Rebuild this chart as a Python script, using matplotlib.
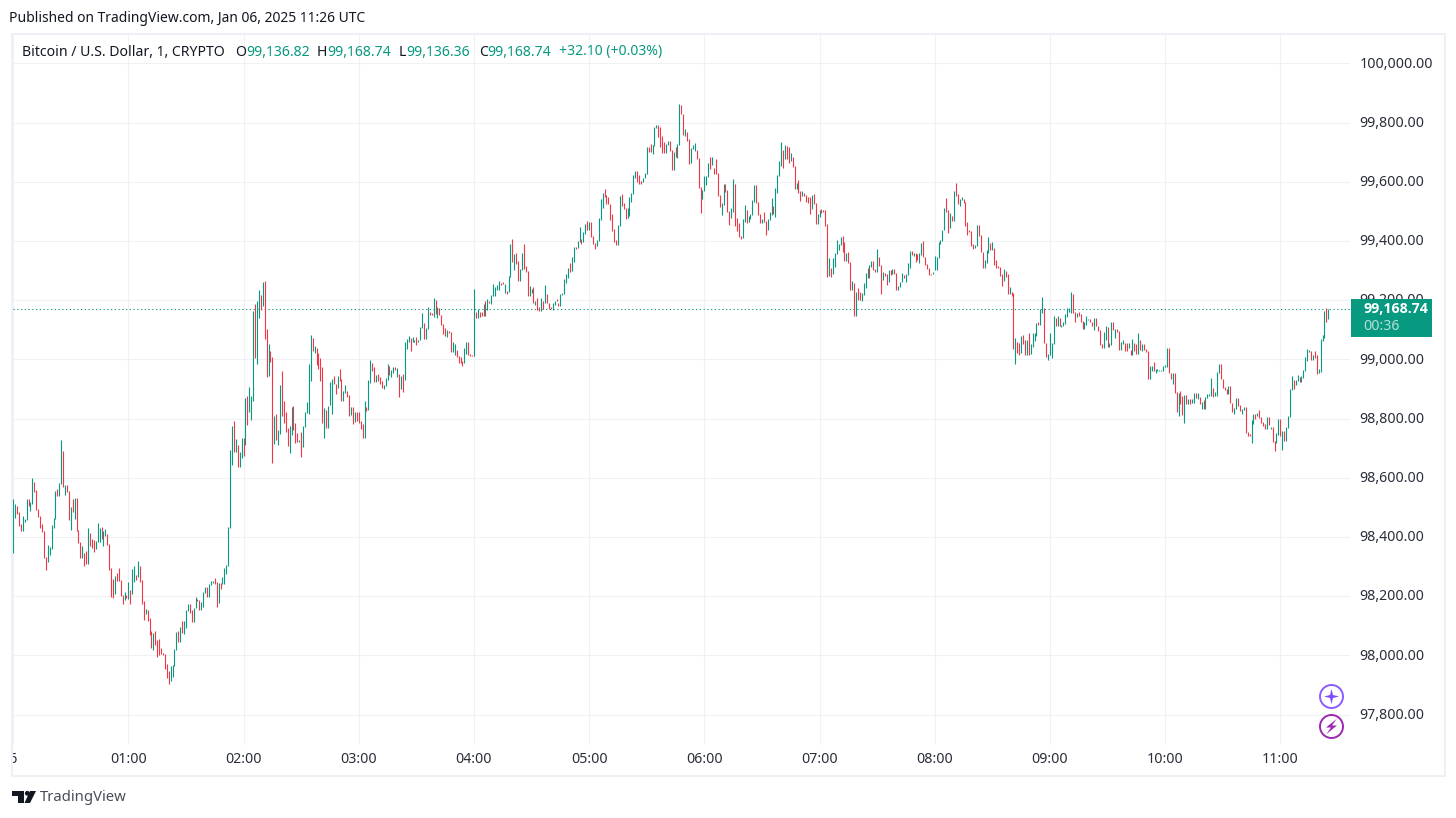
import matplotlib
matplotlib.use("Agg")
import matplotlib.pyplot as plt
import numpy as np
from matplotlib.patches import Rectangle, Circle, Polygon
from matplotlib.transforms import Bbox, ScaledTranslation

plt.rcParams["font.family"] = ["Noto Sans", "DejaVu Sans"]

GREEN = "#089981"
RED = "#F23645"
GRID = "#F0F1F5"
FRAME = "#EFF0F5"
TEXT = "#131722"

# 1 minute bars, (high, low, rising), one list per stretch of the session
session_a = [
    (98528,98346,1),(98511,98463,1),(98504,98477,0),(98484,98436,0),(98443,98420,0),(98470,98420,1),
    (98460,98450,1),(98528,98457,1),(98528,98504,0),(98518,98487,1),(98599,98511,1),(98585,98551,0),
    (98558,98491,0),(98494,98467,0),(98470,98430,0),(98443,98416,0),(98420,98328,0),(98332,98288,0),
    (98372,98315,1),(98365,98338,1),(98440,98359,1),(98463,98430,1),(98555,98460,1),(98562,98538,0),
    (98582,98538,1),(98727,98578,1),(98690,98568,0),(98575,98541,1),(98575,98551,0),(98555,98457,0),
    (98501,98423,1),(98528,98484,0),(98531,98460,1),(98531,98420,0),(98423,98379,0),(98382,98328,0),
    (98369,98328,1),(98345,98301,0),(98352,98308,0),(98430,98308,1),(98413,98369,0),(98392,98362,0),
    (98389,98348,0),(98386,98359,1),(98447,98382,1),(98430,98382,1),(98433,98392,0),(98420,98369,1),
    (98426,98403,1),(98409,98372,0),(98376,98288,0),(98294,98196,0),(98257,98193,0),(98267,98206,1),
    (98277,98250,0),(98294,98250,0),(98254,98200,0),(98203,98173,0),(98213,98186,1),(98203,98193,0),
    (98247,98190,1),(98220,98173,0),(98291,98206,1),(98301,98247,1),(98271,98254,0),(98318,98264,1),
    (98301,98247,0),(98254,98173,0),(98183,98119,0),(98156,98139,1),(98152,98115,0),(98125,98068,0),
    (98081,98024,0),(98075,98017,1),(98081,98034,0),(98051,97994,0),(98054,98000,0),(98024,98004,0),
    (98007,98000,0),(98004,97953,0),(97970,97923,0),(97946,97902,0),(97963,97912,1),(97966,97926,1),
    (98021,97963,1),(98078,98017,1),(98081,98044,0),(98095,98044,1),(98115,98075,0),(98115,98071,1),
    (98152,98092,1),(98173,98149,1),(98173,98142,0),(98152,98112,0),(98159,98112,1),(98196,98159,1),
    (98190,98183,0),(98186,98152,0),(98179,98152,1),(98213,98163,1),(98230,98210,1),(98230,98196,0),
    (98240,98196,1),(98250,98237,1),(98250,98244,1),(98260,98240,0),(98247,98163,0),(98244,98176,1),
    (98244,98223,0),(98264,98240,1),(98294,98240,1),(98305,98274,1),(98433,98301,1),(98693,98430,1),
]
session_b = [
    (98775,98643,1),(98791,98687,0),(98731,98687,1),(98710,98636,0),(98687,98636,1),(98734,98666,1),
    (98734,98673,0),(98869,98710,1),(98876,98778,0),(98906,98822,1),(98876,98795,1),(99163,98859,1),
    (99187,99004,0),(99197,98984,1),(99234,99140,1),(99217,99167,0),(99261,99180,1),(99265,99069,0),
    (99103,98940,0),(99052,98944,1),(99028,98991,0),(99008,98649,0),(98808,98714,1),(98815,98727,0),
    (98761,98710,1),(98913,98747,1),(98960,98808,0),(98859,98785,0),(98822,98754,0),(98768,98707,0),
    (98775,98683,1),(98839,98744,1),(98842,98761,0),(98785,98717,0),(98751,98720,0),(98727,98720,1),
    (98754,98670,0),(98775,98704,1),(98822,98771,1),(98856,98818,1),(98984,98815,1),(99082,98927,1),
    (99072,99028,0),(99045,99021,1),(99038,98981,0),(99021,98967,0),(99004,98927,0),(98974,98785,0),
    (98835,98734,1),(98829,98768,0),(98842,98768,1),(98923,98846,1),(98933,98815,1),(98944,98917,0),
    (98917,98883,0),(98944,98903,1),(98967,98927,0),(98933,98859,0),(98893,98859,1),(98913,98886,1),
    (98893,98873,0),(98879,98808,0),(98839,98812,1),(98839,98781,0),(98822,98788,1),(98822,98791,0),
    (98822,98785,0),(98791,98764,0),(98781,98734,0),(98859,98734,1),(98839,98825,0),(98930,98829,1),
    (98998,98920,1),(98988,98960,0),(98974,98923,0),(98947,98923,1),(98950,98927,0),(98940,98917,0),
    (98927,98903,0),(98913,98900,1),(98937,98910,1),(98984,98930,1),(98977,98947,0),(98964,98940,1),
    (98974,98954,1),(98974,98964,0),(98971,98940,1),(98950,98873,0),
]
session_c = [
    (98945,98900,1),(98950,98890,0),(99058,98930,1),(99069,99035,1),(99079,99058,1),(99072,99028,0),
    (99075,99058,1),(99065,99058,1),(99075,99048,0),(99065,99058,1),(99109,99065,1),(99156,99106,1),
    (99123,99069,0),(99106,99069,1),(99177,99102,1),(99160,99150,0),(99156,99150,0),(99207,99143,1),
    (99200,99153,0),(99177,99140,1),(99173,99150,0),(99150,99116,0),(99119,99085,0),(99106,99079,0),
    (99099,99075,1),(99096,99089,0),(99092,99025,0),(99058,99025,1),(99052,99014,1),(99031,99008,0),
    (99011,98987,0),(99008,98987,0),(98994,98977,0),(99038,98987,1),(99058,99018,1),(99058,99014,0),
    (99018,99011,0),(99014,99011,0),(99238,99011,1),(99160,99140,0),(99170,99140,1),(99160,99143,0),
    (99160,99146,0),(99187,99146,1),(99197,99146,0),(99204,99167,1),(99197,99190,0),(99217,99187,1),
    (99255,99214,1),(99244,99214,1),(99251,99234,1),(99265,99234,1),(99258,99251,0),(99261,99254,0),
    (99255,99224,1),(99231,99221,0),(99282,99227,1),(99390,99278,1),(99407,99329,0),(99356,99302,1),
    (99359,99322,0),(99332,99265,0),(99305,99265,1),(99359,99302,1),(99390,99305,0),(99315,99295,0),
    (99298,99214,0),(99248,99214,1),(99238,99224,1),(99244,99190,0),(99197,99183,1),(99207,99167,0),
    (99177,99163,0),(99207,99163,1),(99197,99170,0),(99251,99190,1),(99221,99190,0),(99190,99170,0),
    (99177,99170,0),(99190,99167,1),(99197,99183,1),(99204,99197,0),(99190,99180,0),(99221,99180,1),
    (99224,99217,1),(99271,99221,1),
]
session_d = [
    (99290,99258,1),(99310,99275,1),(99325,99295,0),(99345,99300,1),
    (99380,99330,1),(99380,99373,0),(99400,99377,1),(99448,99397,1),(99407,99390,0),(99431,99397,1),
    (99458,99424,1),(99468,99438,0),(99465,99438,1),(99465,99414,0),(99417,99390,0),(99394,99373,0),
    (99404,99383,1),(99478,99400,1),(99542,99471,1),(99563,99512,1),(99576,99549,0),(99556,99525,0),
    (99549,99525,0),(99525,99471,0),(99492,99434,0),(99441,99397,0),(99404,99387,0),(99454,99387,1),
    (99552,99451,1),(99559,99519,0),(99529,99509,0),(99512,99475,0),(99512,99478,1),(99549,99485,1),
    (99563,99532,1),(99624,99559,1),(99637,99613,1),(99637,99600,0),(99624,99593,0),(99603,99593,0),
    (99613,99600,1),(99630,99613,1),(99718,99627,1),(99718,99701,0),(99728,99701,0),(99725,99695,1),
    (99786,99722,1),(99793,99782,1),(99793,99752,0),(99786,99718,0),(99755,99698,0),(99735,99698,0),
    (99728,99698,1),(99738,99725,1),(99738,99705,0),(99708,99640,0),(99701,99640,1),(99718,99684,0),
    (99728,99681,1),(99864,99725,1),(99860,99830,0),(99830,99759,0),(99779,99755,1),(99769,99738,0),
    (99745,99661,0),(99715,99664,1),(99725,99711,1),(99732,99705,1),(99708,99678,0),(99681,99580,0),
    (99583,99495,0),(99573,99542,1),(99620,99570,1),(99620,99590,1),(99664,99617,1),(99684,99644,0),
    (99684,99657,1),(99647,99627,0),(99678,99627,0),(99630,99552,0),
]
session_e = [
    (99555,99515,0),(99528,99488,1),(99592,99521,1),(99592,99565,0),(99572,99498,0),(99501,99454,0),
    (99511,99477,1),(99609,99498,1),(99592,99450,0),(99477,99434,0),(99461,99413,0),(99417,99406,0),
    (99474,99410,1),(99521,99464,1),(99505,99461,0),(99484,99464,1),(99491,99474,1),(99538,99488,1),
    (99589,99532,1),(99589,99528,0),(99532,99488,0),(99491,99461,0),(99474,99461,1),(99498,99464,0),
    (99467,99420,0),(99474,99437,1),(99498,99471,1),(99545,99488,1),(99518,99491,0),(99579,99481,1),
    (99623,99562,1),(99670,99619,1),(99734,99653,1),(99707,99647,0),(99724,99677,1),(99721,99677,0),
    (99718,99663,0),(99697,99670,1),(99684,99650,0),(99653,99576,0),(99596,99576,1),(99606,99562,0),
    (99569,99535,0),(99569,99552,1),(99562,99552,0),(99555,99532,0),(99548,99528,0),(99548,99491,0),
    (99555,99508,1),(99559,99525,0),(99528,99457,0),(99491,99457,1),(99505,99481,1),(99508,99494,0),
    (99505,99498,0),(99505,99450,0),(99457,99278,0),(99342,99281,1),(99308,99278,0),(99342,99288,1),
    (99359,99312,1),(99403,99356,1),(99390,99369,1),(99413,99386,1),(99417,99363,0),(99396,99332,0),
    (99359,99332,1),(99363,99325,0),(99329,99234,0),(99264,99234,1),(99258,99146,0),(99227,99146,1),
    (99241,99200,0),(99227,99200,0),(99224,99197,1),(99258,99217,1),(99291,99241,1),(99308,99275,0),
    (99319,99275,1),(99332,99312,1),(99332,99302,0),
]
session_f = [
    (99305,99295,0),(99373,99295,1),(99346,99315,0),(99319,99221,0),(99295,99268,1),(99292,99282,0),
    (99288,99251,0),(99302,99261,1),(99302,99285,0),(99305,99288,1),(99305,99288,0),(99292,99234,0),
    (99248,99234,1),(99261,99244,1),(99292,99261,1),(99285,99275,0),(99288,99261,1),(99325,99285,1),
    (99366,99309,1),(99366,99352,0),(99359,99349,1),(99359,99329,0),(99356,99336,0),(99359,99325,1),
    (99393,99352,1),(99400,99346,0),(99346,99319,0),(99322,99305,0),(99309,99285,0),(99288,99285,0),
    (99295,99288,1),(99349,99302,1),(99346,99302,1),(99396,99342,1),(99403,99390,1),(99437,99400,1),
    (99511,99437,1),(99545,99498,0),(99505,99427,0),(99495,99444,1),(99484,99467,0),(99569,99467,1),
    (99596,99552,0),(99559,99525,0),(99542,99518,1),(99549,99538,1),(99542,99528,0),(99532,99451,0),
    (99464,99420,0),(99437,99430,0),(99434,99383,0),(99390,99373,0),(99386,99376,1),(99454,99383,1),
    (99454,99417,0),(99420,99363,0),(99363,99309,0),(99336,99309,1),(99369,99325,1),(99413,99359,1),
    (99393,99369,0),(99396,99369,1),(99376,99319,0),(99336,99309,0),(99315,99309,0),(99312,99282,0),
    (99288,99248,0),(99305,99265,1),(99298,99278,0),(99288,99221,0),(99244,99221,1),(99227,99214,0),
    (99224,99035,0),(99072,98984,1),(99058,99021,0),(99055,99014,0),(99079,99021,1),(99082,99052,0),
    (99065,99014,0),(99065,99014,1),(99089,99014,0),
]
session_g = [
    (99052,99018,1),(99089,99041,1),(99089,99062,1),(99122,99079,1),(99126,99116,0),(99170,99116,1),
    (99210,99156,1),(99173,99055,0),(99055,99008,0),(99018,98997,1),(99089,99014,1),(99055,99004,1),
    (99146,99052,1),(99139,99112,0),(99146,99112,1),(99139,99112,0),(99116,99109,1),(99126,99112,1),
    (99153,99119,1),(99173,99143,1),(99175,99160,1),(99227,99156,1),(99221,99156,0),(99160,99126,0),
    (99156,99143,1),(99160,99146,0),(99153,99126,0),(99129,99102,0),(99126,99102,1),(99146,99116,1),
    (99136,99133,1),(99136,99126,0),(99126,99112,0),(99139,99099,1),(99139,99112,0),(99112,99095,0),
    (99099,99048,0),(99052,99038,0),(99092,99038,1),(99112,99065,1),(99109,99041,0),(99055,99041,1),
    (99126,99048,1),(99126,99099,0),(99102,99072,1),(99102,99092,0),(99095,99031,0),(99058,99031,1),
    (99065,99052,1),(99055,99028,0),(99055,99028,0),(99055,99040,1),(99031,99014,0),(99068,99014,1),
    (99055,99028,0),(99052,99018,0),(99089,99018,1),(99065,99031,0),(99052,99028,1),(99052,99031,0),
    (99035,99024,0),(99028,98933,0),(98977,98933,1),(98977,98960,1),(98991,98960,0),(98967,98953,1),
    (98967,98960,1),(98965,98960,1),(98963,98960,1),(98977,98960,1),(98981,98974,1),(99038,98974,1),
    (99038,98953,0),(98953,98933,0),(98953,98916,1),(98953,98886,0),(98889,98822,0),(98886,98808,1),
    (98893,98849,0),(98876,98811,0),
]
session_h = [
    (98880,98785,1),(98880,98849,0),(98866,98849,1),(98866,98849,0),(98866,98853,1),(98887,98853,1),
    (98887,98870,0),(98887,98866,1),(98873,98849,0),(98856,98832,1),(98863,98832,0),(98873,98832,1),
    (98883,98870,1),(98883,98876,1),(98937,98876,1),(98903,98873,0),(98890,98876,1),(98958,98876,1),
    (98985,98954,1),(98985,98934,0),(98934,98903,0),(98907,98897,0),(98900,98883,0),(98910,98883,1),
    (98910,98853,0),(98853,98822,0),(98836,98816,1),(98870,98832,1),(98870,98843,0),(98846,98826,0),
    (98832,98816,1),(98839,98829,1),(98839,98751,0),(98755,98741,0),(98748,98741,0),(98795,98718,1),
    (98816,98782,1),(98816,98799,0),(98819,98809,1),(98829,98802,0),(98805,98785,0),(98789,98775,0),
    (98782,98765,0),(98805,98765,1),(98805,98778,0),(98772,98765,1),(98772,98721,0),(98724,98690,0),
    (98751,98718,1),(98799,98745,1),(98799,98741,0),(98758,98694,1),(98758,98724,0),(98772,98724,1),
    (98809,98768,1),(98900,98805,1),(98944,98897,1),(98931,98900,0),(98931,98914,1),(98947,98927,1),
    (98941,98924,0),(98944,98924,1),(98964,98937,1),(99008,98961,1),(99035,98995,1),(99032,99025,1),
    (99029,98998,0),(99015,98998,1),(99029,99005,0),(99015,98951,0),(98968,98954,1),(99069,98958,1),
    (99083,99062,1),(99164,99073,1),(99174,99127,0),(99171,99137,1),
]
sessions = [session_a, session_b, session_c, session_d, session_e, session_f, session_g, session_h]
session_starts = [0, 114, 202, 288, 368, 449, 530, 610]  # minutes after 00:00

last_price = 99168.74
price_ticks = [97800, 98000, 98200, 98400, 98600, 98800, 99000, 99200, 99400, 99600, 99800, 100000]
time_ticks = [0, 60, 120, 180, 240, 300, 360, 420, 480, 540, 600, 660]
time_labels = ["06", "01:00", "02:00", "03:00", "04:00", "05:00", "06:00", "07:00",
               "08:00", "09:00", "10:00", "11:00"]

ohlc_labels = ["O", "H", "L", "C"]
ohlc_values = ["99,136.82", "99,168.74", "99,136.36", "99,168.74"]

W, H = 1456, 818
fig = plt.figure(figsize=(W / 100, H / 100), dpi=100, facecolor="white")

# plot area, x 13..1350 and y 35..745 in picture pixels
ax = fig.add_axes([13 / W, 1 - 745 / H, (1350 - 13) / W, (745 - 35) / H])
ax.set_xlim(-0.1, 696.3)
ax.set_ylim(97697, 100096)
for s in ax.spines.values():
    s.set_visible(False)

for start, rows in zip(session_starts, sessions):
    minutes = start + np.arange(len(rows))
    highs = np.array([r[0] for r in rows])
    lows = np.array([r[1] for r in rows])
    cols = [GREEN if r[2] else RED for r in rows]
    ax.vlines(minutes, lows, highs, colors=cols, linewidth=0.8, zorder=3)

ax.axhline(last_price, color=GREEN, linewidth=0.75, dashes=(1.2, 2.4), zorder=2)

ax.set_yticks(price_ticks)
ax.set_yticklabels([f"{p:,.2f}" for p in price_ticks])
ax.yaxis.tick_right()
ax.set_xticks(time_ticks)
ax.set_xticklabels(time_labels)
ax.grid(True, color=GRID, linewidth=0.75)
ax.set_axisbelow(True)
ax.tick_params(axis="both", length=0, labelsize=10.2, labelcolor="#2A2E39")
ax.tick_params(axis="y", pad=7)
ax.tick_params(axis="x", pad=5)

# labels sit a pixel above their grid lines
for lbl in ax.get_yticklabels():
    lbl.set_transform(lbl.get_transform() + ScaledTranslation(0, 0.012, fig.dpi_scale_trans))

# the first day label is cut off by the chart frame
first_lbl = ax.get_xticklabels()[0]
first_lbl.set_transform(first_lbl.get_transform() + ScaledTranslation(-0.04, 0, fig.dpi_scale_trans))
first_lbl.set_clip_box(Bbox([[12.5, 0], [60, 100]]))
first_lbl.set_clip_on(True)

# everything around the plot, placed in picture pixels
top = fig.add_axes([0, 0, 1, 1], zorder=5)
top.set_xlim(0, W)
top.set_ylim(H, 0)
top.axis("off")
top.patch.set_visible(False)

top.add_patch(Rectangle((12, 34), 1432.5, 741.5, fill=False, edgecolor=FRAME, linewidth=1.5))

top.text(9, 19, "Published on TradingView.com, Jan 06, 2025 11:26 UTC", fontsize=10, color=TEXT,
         va="center", ha="left")
top.text(22, 52, "Bitcoin / U.S. Dollar, 1, CRYPTO", fontsize=10.1, color=TEXT, va="center", ha="left")

for lx, vx, lab, val in zip([235, 317, 399, 479], [246, 327, 406, 487], ohlc_labels, ohlc_values):
    top.text(lx, 52, lab, fontsize=10.1, color=TEXT, va="center", ha="left")
    top.text(vx, 52, val, fontsize=10.1, color=GREEN, va="center", ha="left")
top.text(559, 52, "+32.10 (+0.03%)", fontsize=10.1, color=GREEN, va="center", ha="left")

# last price tag
top.add_patch(Rectangle((1351, 299), 81, 38, facecolor=GREEN, edgecolor="none"))
top.text(1363, 309, f"{last_price:,.2f}", fontsize=10.2, color="white", weight="bold",
         family=["Open Sans", "DejaVu Sans"], va="center", ha="left")
top.text(1363, 326, "00:36", fontsize=10.2, color="#B5E0D8", va="center", ha="left")

# the two round buttons
top.add_patch(Circle((1331.5, 696.5), 11.5, fill=False, edgecolor="#8A5CFF", linewidth=1.4))
top.add_patch(Polygon([(1331.5, 689), (1333, 695), (1339, 696.5), (1333, 698), (1331.5, 704),
                       (1330, 698), (1324, 696.5), (1330, 695)], closed=True, facecolor="#7E4DFF",
                      edgecolor="none"))
top.add_patch(Circle((1331.5, 726.5), 11.5, fill=False, edgecolor="#9C27B0", linewidth=1.4))
top.add_patch(Polygon([(1336.5, 719), (1326, 727.5), (1331, 727.5), (1326.5, 734), (1337, 725.5),
                       (1332, 725.5)], closed=True, facecolor="#9C27B0", edgecolor="none"))

# TradingView logo
logo = "#131722"
top.add_patch(Polygon([(12, 791), (24, 791), (24, 803), (18, 803), (18, 796), (12, 796)], closed=True,
                      facecolor=logo, edgecolor="none"))
top.add_patch(Circle((27.3, 793.3), 2.4, facecolor=logo, edgecolor="none"))
top.add_patch(Polygon([(30, 791), (36, 791), (30, 803), (24.5, 803)], closed=True, facecolor=logo,
                      edgecolor="none"))
top.text(40, 797.5, "TradingView", fontsize=10.7, color="#4A4E59", va="center", ha="left")

fig.savefig("out.png", dpi=100)
